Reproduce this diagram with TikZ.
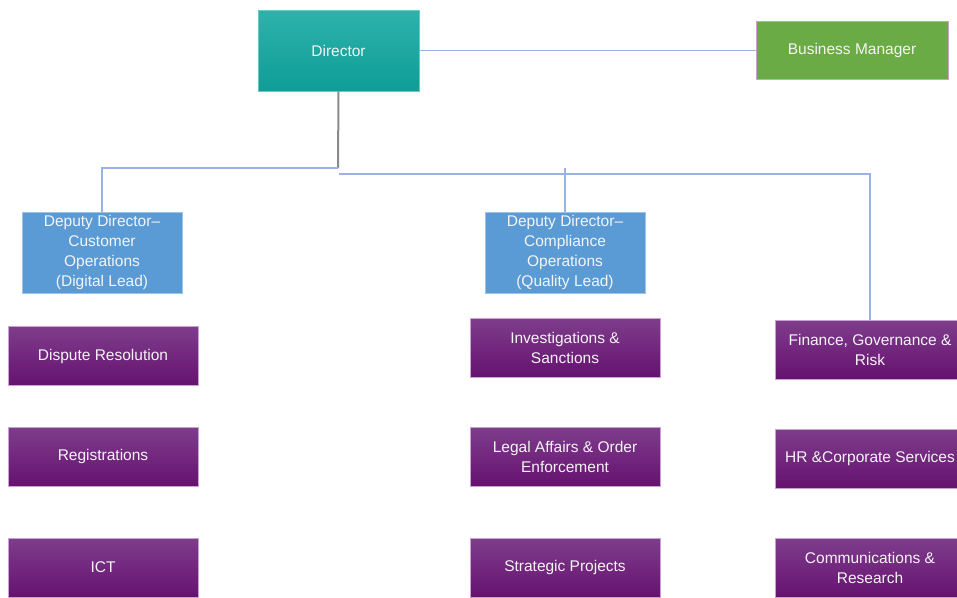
\documentclass[tikz,border=0pt]{standalone}
\usepackage{fontspec}
\setmainfont{Liberation Sans}

\definecolor{tealtop}{HTML}{2EB2AC}
\definecolor{tealbot}{HTML}{0E9D97}
\definecolor{bmgreen}{HTML}{6AAB45}
\definecolor{depblue}{HTML}{5B9BD5}
\definecolor{purptop}{HTML}{7E3D8B}
\definecolor{purpbot}{HTML}{661270}
\definecolor{purpedge}{HTML}{C8A2D0}
\definecolor{connblue}{HTML}{9AB3E0}
\definecolor{stemgray}{HTML}{8A8A8A}
\definecolor{boxtext}{HTML}{F4F4F4}

\begin{document}
\begin{tikzpicture}[x=1pt,y=-1pt,
        every node/.style={font=\fontsize{15.5}{20}\selectfont, text=boxtext, align=center, inner sep=0pt},
        unitbox/.style={rectangle, minimum width=190pt, minimum height=59pt, top color=purptop, bottom color=purpbot, draw=purpedge, line width=0.8pt},
        depbox/.style={rectangle, minimum width=160pt, minimum height=81pt, fill=depblue, draw=depblue!60!white, line width=0.8pt},
        conn/.style={draw=connblue, line width=1.4pt},
        stem/.style={draw=stemgray, line width=2pt}]
    \useasboundingbox (0,0) rectangle (957,597);
    \clip (0,0) rectangle (957,597);

    % top level
    \node[rectangle, minimum width=161pt, minimum height=81pt, top color=tealtop, bottom color=tealbot, draw=tealtop!70!white, line width=0.6pt] (dir) at (338.5,50.5) {Director};
    \node[rectangle, minimum width=192pt, minimum height=58pt, fill=bmgreen, draw=purpedge, line width=0.8pt] (bm) at (852,50.5) {Business Manager};

    % deputies
    \node[depbox] (ddc) at (102,252.5) {Deputy Director–\\Customer\\Operations\\(Digital Lead)};
    \node[depbox] (ddq) at (565,252.5) {Deputy Director–\\Compliance\\Operations\\(Quality Lead)};

    % units
    \node[unitbox] (dispute) at (103,356) {Dispute Resolution};
    \node[unitbox] (reg) at (103,456.5) {Registrations};
    \node[unitbox] (ict) at (103,567.5) {ICT};
    \node[unitbox] (inv) at (565,347.5) {Investigations \&\\Sanctions};
    \node[unitbox] (legal) at (565,456.5) {Legal Affairs \& Order\\Enforcement};
    \node[unitbox] (strat) at (565,567.5) {Strategic Projects};
    \node[unitbox] (fin) at (870,349.5) {Finance, Governance \&\\Risk};
    \node[unitbox] (hr) at (870,458.5) {HR \&Corporate Services};
    \node[unitbox] (comms) at (870,567.5) {Communications \&\\Research};

    \coordinate (jl) at (338,168);
    \coordinate (jr) at (339,174);
    \coordinate (jq) at (565,168);

    \draw[conn] (dir.east) -- (bm.west);
    \draw[stem] (dir.south) -- (jl);
    \draw[conn] (jl) -| (ddc.north);
    \draw[conn] (jr) -| (fin.north);
    \draw[conn] (jq) -- (ddq.north);
\end{tikzpicture}
\end{document}
